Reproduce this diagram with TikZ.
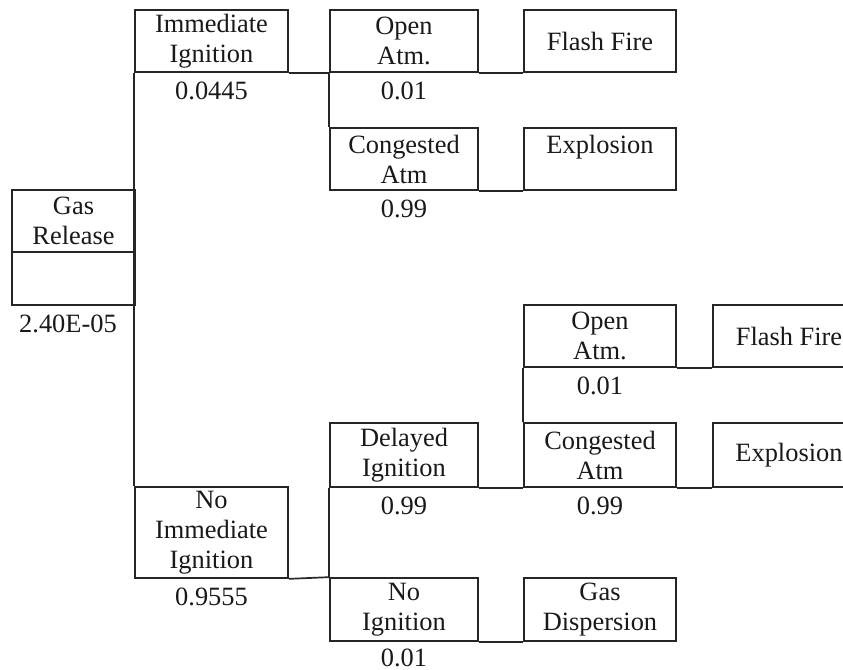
\documentclass[tikz,border=0pt]{standalone}
\usepackage{fontspec}
\setmainfont{Liberation Serif}
\begin{document}
\begin{tikzpicture}[x=0.5pt,y=-0.5pt,
  every node/.style={font=\fontsize{13.2}{15}\selectfont, text=black!90},
  box/.style={draw=black!85, line width=0.85pt, inner sep=0pt, align=center,
    minimum width=#1},
  box/.default=76pt,
  lbl/.style={inner sep=0pt},
  conn/.style={draw=black!85, line width=0.85pt}]
\useasboundingbox (0,0) rectangle (843,670);
\clip (0,0) rectangle (843,670);
% boxes
\node[box=61.5pt, minimum height=31pt] (gr) at (73.5,221) {Gas\\Release};
\node[box=61.5pt, minimum height=26.5pt] (gr2) at (73.5,278.5) {};
\node[box=76.5pt, minimum height=31pt] (ii) at (211.5,41) {Immediate\\Ignition};
\node[box=74pt, minimum height=31pt] (oa) at (404,41) {Open\\Atm.};
\node[box=74pt, minimum height=31pt] (ca) at (404,159) {Congested\\Atm};
\node[box=76pt, minimum height=31pt] (ff) at (600,41) {Flash Fire};
\node[box=76pt, minimum height=31pt] (ex) at (600,159) {Explosion\\\phantom{Atm}};
\node[box=76.5pt, minimum height=45.5pt] (ni) at (211.5,532.5) {No\\Immediate\\Ignition};
\node[box=74pt, minimum height=32pt] (di) at (404,455) {Delayed\\Ignition};
\node[box=74pt, minimum height=31.5pt] (ng) at (404,609.5) {No\\Ignition};
\node[box=76pt, minimum height=31.5pt] (gd) at (600,609.5) {Gas\\Dispersion};
\node[box=76pt, minimum height=31pt] (oa2) at (600,336) {Open\\Atm.};
\node[box=76pt, minimum height=32pt] (ca2) at (600,455) {Congested\\Atm};
\node[box=76pt, minimum height=31pt] (ff2) at (789,336) {Flash Fire};
\node[box=76pt, minimum height=32pt] (ex2) at (789,455) {Explosion};
% labels
\node[lbl] (lgr) at ([xshift=-2.75pt,yshift=-9pt]gr2.south) {2.40E-05};
\node[lbl] (lii) at ([yshift=-9pt]ii.south) {0.0445};
\node[lbl] (loa) at ([yshift=-9pt]oa.south) {0.01};
\node[lbl] (lca) at ([yshift=-9pt]ca.south) {0.99};
\node[lbl] (lni) at ([yshift=-9pt]ni.south) {0.9555};
\node[lbl] (ldi) at ([yshift=-9pt]di.south) {0.99};
\node[lbl] (lng) at ([yshift=-8.2pt]ng.south) {0.01};
\node[lbl] (loa2) at ([yshift=-9pt]oa2.south) {0.01};
\node[lbl] (lca2) at ([yshift=-9pt]ca2.south) {0.99};
% connectors
\draw[conn] (ii.south west) -- (ni.north west);
\draw[conn] (ii.south east) -- (oa.south west);
\draw[conn] (oa.south west) -- (ca.north west);
\draw[conn] (oa.south east) -- (ff.south west);
\draw[conn] (ca.south east) -- (ex.south west);
\draw[conn] (ni.south east) -- (ng.north west);
\draw[conn] (di.south west) -- (ng.north west);
\draw[conn] (di.south east) -- (ca2.south west);
\draw[conn] (ng.south east) -- (gd.south west);
\draw[conn] (oa2.south west) -- (ca2.north west);
\draw[conn] (oa2.south east) -- (ff2.south west);
\draw[conn] (ca2.south east) -- (ex2.south west);
\end{tikzpicture}
\end{document}
